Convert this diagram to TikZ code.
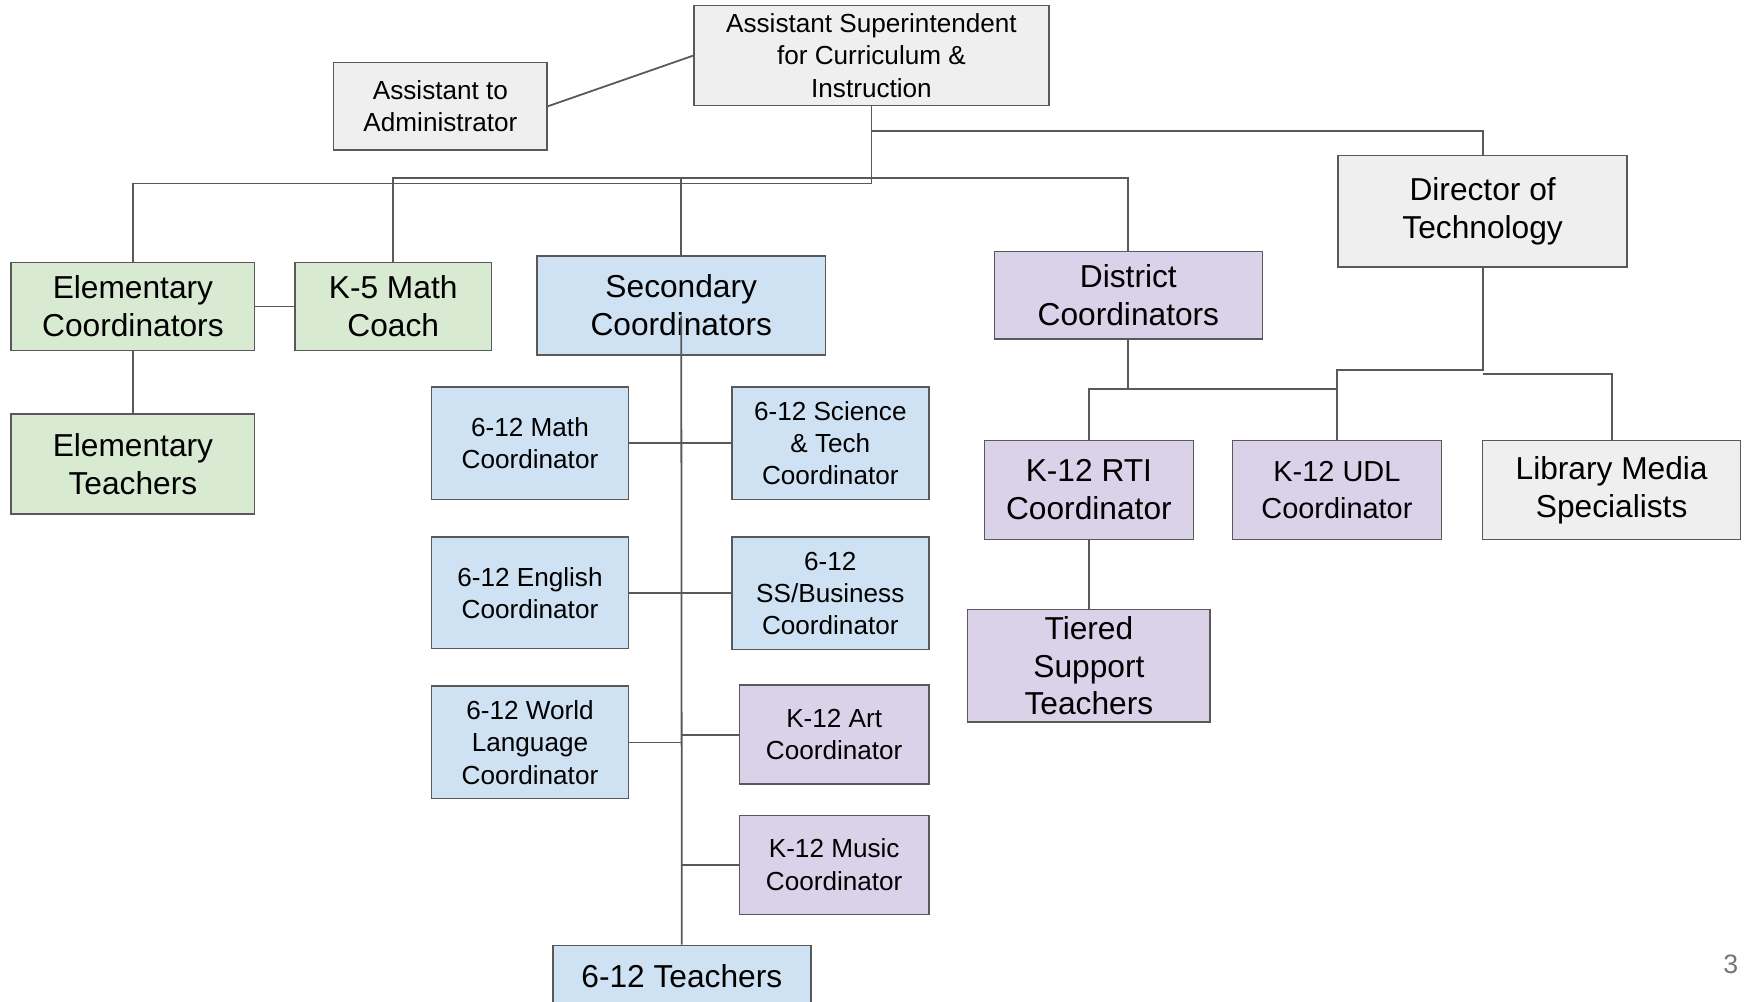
\documentclass[tikz,border=0pt]{standalone}
\usepackage{fontspec}
\setmainfont{Liberation Sans}
\definecolor{gfill}{HTML}{EFEFEF}
\definecolor{grfill}{HTML}{D9EAD3}
\definecolor{blfill}{HTML}{CFE2F3}
\definecolor{pufill}{HTML}{D9D2E9}
\definecolor{edge}{HTML}{595959}
\definecolor{pgnum}{HTML}{757575}
\tikzset{
  box/.style={draw=edge, line width=1.4pt, inner sep=0pt, align=center, text=black},
  graybox/.style={box, fill=gfill},
  greenbox/.style={box, fill=grfill},
  bluebox/.style={box, fill=blfill},
  purplebox/.style={box, fill=pufill},
  med/.style={font=\fontsize{23.5}{29}\selectfont},
  big/.style={font=\fontsize{28.5}{34}\selectfont},
  mid/.style={font=\fontsize{26}{33}\selectfont},
  conn/.style={draw=edge, line width=1.6pt},
}
\begin{document}
\begin{tikzpicture}[x=1pt,y=-1pt]
\clip (0,0) rectangle (1568,900);
\fill[white] (0,0) rectangle (1568,900);
% nodes
\node[graybox, med, minimum width=319pt, minimum height=90pt] (asup) at (783.5,50) {Assistant Superintendent\\for Curriculum \&\\Instruction};
\node[graybox, med, minimum width=192pt, minimum height=79pt] (asst) at (396,95.5) {Assistant to\\Administrator};
\node[graybox, big, minimum width=260pt, minimum height=100pt] (dot) at (1333,190) {Director of\\Technology};
\node[greenbox, big, minimum width=219pt, minimum height=79pt] (elc) at (119.5,275.5) {Elementary\\Coordinators};
\node[greenbox, big, minimum width=177pt, minimum height=79pt] (k5) at (353.5,275.5) {K-5 Math\\Coach};
\node[bluebox, big, minimum width=259pt, minimum height=89pt] (sec) at (612.5,274.5) {Secondary\\Coordinators};
\node[purplebox, big, minimum width=241pt, minimum height=79pt] (dist) at (1014.5,265.5) {District\\Coordinators};
\node[greenbox, big, minimum width=219pt, minimum height=90pt] (elt) at (119.5,417) {Elementary\\Teachers};
\node[bluebox, med, minimum width=177pt, minimum height=101pt] (m612) at (476.5,398.5) {6-12 Math\\Coordinator};
\node[bluebox, med, minimum width=177pt, minimum height=101pt] (sci) at (746.5,398.5) {6-12 Science\\\& Tech\\Coordinator};
\node[bluebox, med, minimum width=177pt, minimum height=100pt] (eng) at (476.5,533) {6-12 English\\Coordinator};
\node[bluebox, med, minimum width=177pt, minimum height=101pt] (ss) at (746.5,533.5) {6-12\\SS/Business\\Coordinator};
\node[bluebox, med, minimum width=177pt, minimum height=101pt] (wl) at (476.5,667.5) {6-12 World\\Language\\Coordinator};
\node[purplebox, med, minimum width=170pt, minimum height=89pt] (art) at (750,660.5) {K-12 Art\\Coordinator};
\node[purplebox, med, minimum width=170pt, minimum height=89pt] (mus) at (750,777.5) {K-12 Music\\Coordinator};
\node[bluebox, big, minimum width=232pt, minimum height=56pt] (t612) at (613,878) {6-12 Teachers};
\node[purplebox, big, minimum width=188pt, minimum height=89pt] (rti) at (979,440.5) {K-12 RTI\\Coordinator};
\node[purplebox, mid, minimum width=188pt, minimum height=89pt] (udl) at (1202,440.5) {K-12 UDL\\Coordinator};
\node[graybox, big, minimum width=232pt, minimum height=89pt] (lib) at (1449,440.5) {Library Media\\Specialists};
\node[purplebox, big, minimum width=218pt, minimum height=101pt] (tier) at (979,598.5) {Tiered\\Support\\Teachers};
\node[text=pgnum, font=\fontsize{24}{28}\selectfont] (pg) at (1556,867) {3};
% junctions
\coordinate (jtop) at (783.5,118);
\coordinate (jup) at (783.5,160);
\coordinate (jlow) at (783.5,165);
\coordinate (jdist) at (1014.5,350);
\coordinate (jdot) at (1333,333);
\coordinate (jlib) at (1333,336);
% connectors
\draw[conn] (asup.west) -- (asst.east);
\draw[conn] (asup.south) -- (jlow) -| (elc.north);
\draw[conn] (jup) -| (k5.north);
\draw[conn] (jup) -| (sec.north);
\draw[conn] (jup) -| (dist.north);
\draw[conn] (jtop) -| (dot.north);
\draw[conn] (elc.east) -- (k5.west);
\draw[conn] (elc.south) -- (elt.north);
\draw[conn] ([yshift=36pt]sec.south) -- (t612.north);
\draw[conn] (m612.east) -- (sci.west);
\draw[conn] (eng.east) -- (eng.east -| ss.west);
\draw[conn] (wl.east) -- (wl.east -| t612.north);
\draw[conn] (art.west) -- (art.west -| t612.north);
\draw[conn] (mus.west) -- (mus.west -| t612.north);
\draw[conn] (dist.south) -- (jdist);
\draw[conn] (rti.north) |- (jdist -| udl.north);
\draw[conn] (dot.south) -- (jdot) -| (udl.north);
\draw[conn] (jlib) -| (lib.north);
\draw[conn] (rti.south) -- (tier.north);
\end{tikzpicture}
\end{document}
